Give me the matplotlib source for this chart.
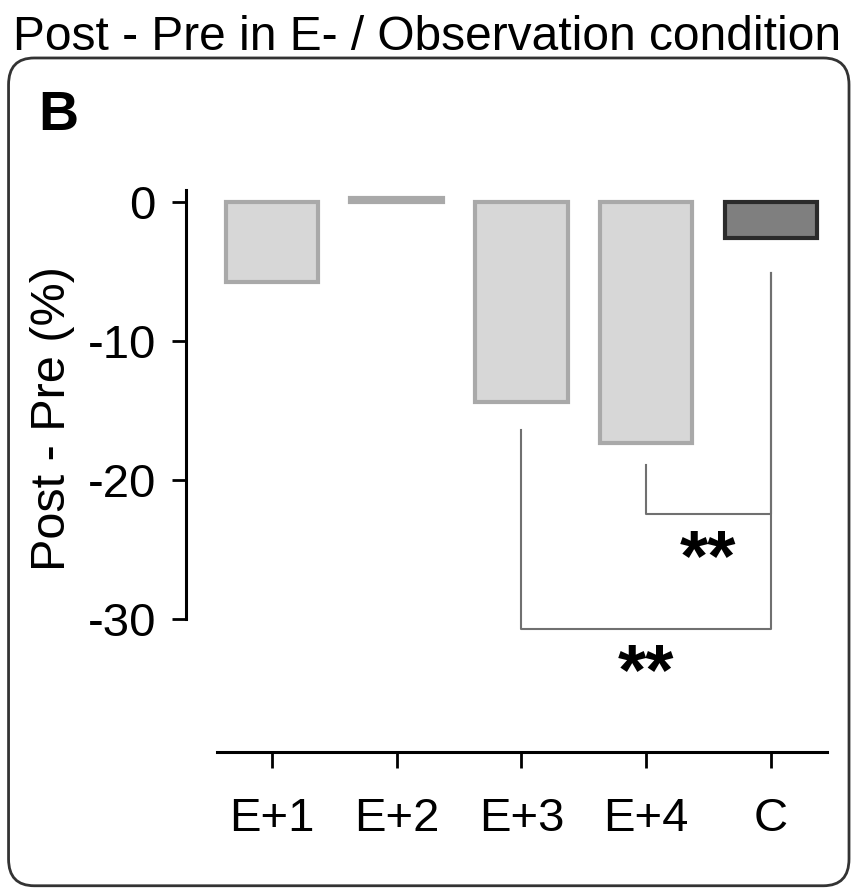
import matplotlib.pyplot as plt
import matplotlib.patches as patches

plt.rcParams['font.family'] = ['Liberation Sans', 'DejaVu Sans']

conditions = ['E+1', 'E+2', 'E+3', 'E+4', 'C']
post_minus_pre = [-5.7, 0.35, -14.4, -17.3, -2.55]
face_colors = ['#d7d7d7', '#d7d7d7', '#d7d7d7', '#d7d7d7', '#7f7f7f']
edge_colors = ['#a9a9a9', '#a9a9a9', '#a9a9a9', '#a9a9a9', '#2b2b2b']
y_ticks = [0, -10, -20, -30]

# significance brackets: (left bar, right bar, left start, right start, level, star y)
brackets = [
    (3, 4, -18.9, -5.1, -22.45, -25.85),
    (2, 4, -16.4, -5.1, -30.75, -34.05),
]

fig = plt.figure(figsize=(8.55, 8.92), dpi=100)

# outer rounded frame
frame = patches.FancyBboxPatch((0.010, 0.007), 0.983, 0.928,
                               boxstyle='round,pad=0,rounding_size=0.03',
                               transform=fig.transFigure, facecolor='white',
                               edgecolor='#333333', linewidth=2, zorder=-5)
fig.patches.append(frame)

fig.text(0.5, 0.958, 'Post - Pre in E- / Observation condition',
         ha='center', va='center', fontsize=34.5)
fig.text(0.045, 0.870, 'B', ha='left', va='center', fontsize=40,
         fontweight='bold')

ax = fig.add_axes([217 / 855, 1 - 752 / 892, 610 / 855, 562 / 892])
ax.set_facecolor('none')
ax.set_zorder(2)

x = range(len(conditions))
ax.bar(x, post_minus_pre, width=0.74, color=face_colors,
       edgecolor=edge_colors, linewidth=3, zorder=2)

for i, j, y_left, y_right, level, star_y in brackets:
    ax.plot([i, i, j, j], [y_left, level, level, y_right],
            color='#707070', linewidth=1.5, zorder=1)
    ax.text((i + j) / 2, star_y, '**', ha='center', va='center',
            fontsize=52, fontweight='bold')

ax.set_xlim(-0.44, 4.45)
ax.set_ylim(-39.6, 0.9)

ax.spines['top'].set_visible(False)
ax.spines['right'].set_visible(False)
ax.spines['left'].set_position(('outward', 22))
ax.spines['left'].set_bounds(-30, 0.9)
ax.spines['left'].set_linewidth(2.2)
ax.spines['bottom'].set_linewidth(2.2)

ax.set_yticks(y_ticks)
ax.set_yticklabels([str(t) for t in y_ticks])
ax.set_xticks(list(x))
ax.set_xticklabels(conditions)
ax.tick_params(axis='y', length=10, width=2, labelsize=34, pad=12)
ax.tick_params(axis='x', length=11.5, width=2, labelsize=34, pad=21)
ax.set_ylabel('Post - Pre (%)', fontsize=35)
ax.yaxis.set_label_coords(-0.233, 0.593)

fig.savefig('out.png', dpi=100)
